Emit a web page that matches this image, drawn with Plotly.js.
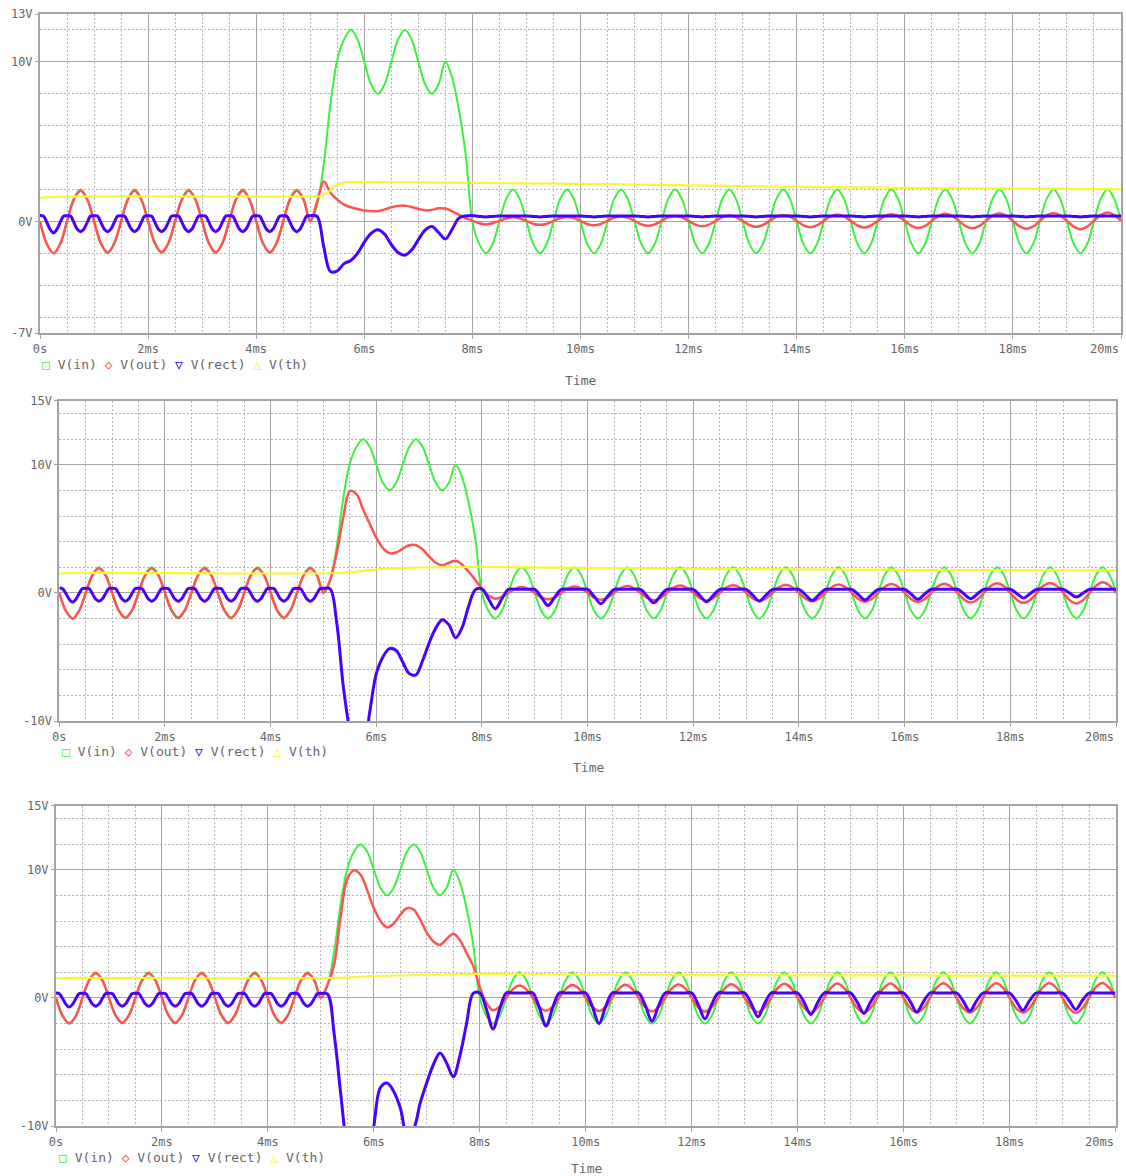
<!DOCTYPE html>
<html>
<head>
<meta charset="utf-8">
<script src="https://cdn.plot.ly/plotly-3.0.1.min.js"></script>
<style>html,body{margin:0;padding:0;background:#fff}#chart{width:1126px;height:1176px}</style>
</head>
<body>
<div id="chart"></div>
<script>
// ---------- time samples (ms) ----------
const tPre = [0,0.125,0.25,0.375,0.5,0.625,0.75,0.875,1,1.125,1.25,1.375,1.5,1.625,1.75,1.875,2,2.125,2.25,2.375,2.5,2.625,2.75,2.875,3,3.125,3.25,3.375,3.5,3.625,3.75,3.875,4,4.125,4.25,4.375,4.5,4.625,4.75,4.875,5];
const tRectPre = [0,0.0625,0.125,0.1875,0.25,0.3125,0.375,0.4375,
  0.5,0.5625,0.625,0.6875,0.75,0.8125,0.875,0.9375,
  1,1.0625,1.125,1.1875,1.25,1.3125,1.375,1.4375,
  1.5,1.5625,1.625,1.6875,1.75,1.8125,1.875,1.9375,
  2,2.0625,2.125,2.1875,2.25,2.3125,2.375,2.4375,
  2.5,2.5625,2.625,2.6875,2.75,2.8125,2.875,2.9375,
  3,3.0625,3.125,3.1875,3.25,3.3125,3.375,3.4375,
  3.5,3.5625,3.625,3.6875,3.75,3.8125,3.875,3.9375,
  4,4.0625,4.125,4.1875,4.25,4.3125,4.375,4.4375,
  4.5,4.5625,4.625,4.6875,4.75,4.8125,4.875,4.9375,
  5];
const tBurst = [5.125,5.25,5.375,5.5,5.625,5.75,5.875,6,6.125,6.25,6.375,6.5,6.625,6.75,6.875,7,7.125,7.25,7.375,7.5,7.625,7.75,7.875,8];
const tPost = [8.125,8.25,8.375,8.5,8.625,8.75,8.875,9,
  9.125,9.25,9.375,9.5,9.625,9.75,9.875,10,
  10.125,10.25,10.375,10.5,10.625,10.75,10.875,11,
  11.125,11.25,11.375,11.5,11.625,11.75,11.875,12,
  12.125,12.25,12.375,12.5,12.625,12.75,12.875,13,
  13.125,13.25,13.375,13.5,13.625,13.75,13.875,14,
  14.125,14.25,14.375,14.5,14.625,14.75,14.875,15,
  15.125,15.25,15.375,15.5,15.625,15.75,15.875,16,
  16.125,16.25,16.375,16.5,16.625,16.75,16.875,17,
  17.125,17.25,17.375,17.5,17.625,17.75,17.875,18,
  18.125,18.25,18.375,18.5,18.625,18.75,18.875,19,
  19.125,19.25,19.375,19.5,19.625,19.75,19.875,20];

// ---------- V(in) (same in all three panels) ----------
const vinPre = [0,-1.41,-2,-1.41,0,1.41,2,1.41,
  0,-1.41,-2,-1.41,0,1.41,2,1.41,
  0,-1.41,-2,-1.41,0,1.41,2,1.41,
  0,-1.41,-2,-1.41,0,1.41,2,1.41,
  0,-1.41,-2,-1.41,0,1.41,2,1.41,
  0];
const vinBurst = [1.0,3.6,7.4,10.1,11.4,12,11.4,10,8.6,8,8.6,10,11.4,12,11.4,10,8.6,8,8.6,10,9,7,4.2,0];
const vinPost = [-1.41,-2,-1.41,0,1.41,2,1.41,0,
  -1.41,-2,-1.41,0,1.41,2,1.41,0,
  -1.41,-2,-1.41,0,1.41,2,1.41,0,
  -1.41,-2,-1.41,0,1.41,2,1.41,0,
  -1.41,-2,-1.41,0,1.41,2,1.41,0,
  -1.41,-2,-1.41,0,1.41,2,1.41,0,
  -1.41,-2,-1.41,0,1.41,2,1.41,0,
  -1.41,-2,-1.41,0,1.41,2,1.41,0,
  -1.41,-2,-1.41,0,1.41,2,1.41,0,
  -1.41,-2,-1.41,0,1.41,2,1.41,0,
  -1.41,-2,-1.41,0,1.41,2,1.41,0,
  -1.41,-2,-1.41,0,1.41,2,1.41,0];

// ---------- V(out) before the burst (same in all panels) ----------
const voutPre = [0,-1.4,-2,-1.4,0,1.36,1.92,1.36,
  0,-1.36,-1.94,-1.36,0,1.36,1.92,1.36,
  0,-1.36,-1.94,-1.36,0,1.36,1.92,1.36,
  0,-1.36,-1.94,-1.36,0,1.36,1.92,1.36,
  0,-1.36,-1.94,-1.36,0,1.36,1.92,1.36,
  0];
// ---------- V(rect) before the burst (same in all panels, finer samples) ----------
const vrectPre = [0.37,0.33,-0.05,-0.5,-0.72,-0.5,-0.05,0.33,
  0.35,0.33,-0.05,-0.48,-0.65,-0.48,-0.05,0.33,
  0.35,0.33,-0.05,-0.48,-0.65,-0.48,-0.05,0.33,
  0.35,0.33,-0.05,-0.48,-0.65,-0.48,-0.05,0.33,
  0.35,0.33,-0.05,-0.48,-0.65,-0.48,-0.05,0.33,
  0.35,0.33,-0.05,-0.48,-0.65,-0.48,-0.05,0.33,
  0.35,0.33,-0.05,-0.48,-0.65,-0.48,-0.05,0.33,
  0.35,0.33,-0.05,-0.48,-0.65,-0.48,-0.05,0.33,
  0.35,0.33,-0.05,-0.48,-0.65,-0.48,-0.05,0.33,
  0.35,0.33,-0.05,-0.48,-0.65,-0.48,-0.05,0.33,
  0.35];

// ---------- panel 1 ----------
const vout1Burst = [1.2,2.5,1.8,1.36,1.05,0.88,0.78,0.68,0.63,0.64,0.75,0.88,0.97,0.98,0.9,0.78,0.69,0.72,0.82,0.8,0.63,0.42,0.21,0.05];
const vout1Post = [-0.12,-0.19,-0.12,0.03,0.18,0.25,0.18,0.03,
  -0.15,-0.22,-0.15,0.03,0.21,0.28,0.21,0.03,
  -0.17,-0.25,-0.17,0.03,0.23,0.31,0.23,0.03,
  -0.19,-0.28,-0.19,0.03,0.25,0.34,0.25,0.03,
  -0.21,-0.31,-0.21,0.03,0.27,0.37,0.27,0.03,
  -0.23,-0.34,-0.23,0.03,0.29,0.4,0.29,0.03,
  -0.25,-0.37,-0.25,0.03,0.31,0.43,0.31,0.03,
  -0.26,-0.39,-0.26,0.03,0.32,0.45,0.32,0.03,
  -0.29,-0.42,-0.29,0.03,0.35,0.48,0.35,0.03,
  -0.3,-0.44,-0.3,0.03,0.36,0.5,0.36,0.03,
  -0.32,-0.47,-0.32,0.03,0.38,0.53,0.38,0.03,
  -0.33,-0.49,-0.33,0.03,0.39,0.55,0.39,0.03];
const vrect1Burst = [0.32,-1.6,-3.15,-3.1,-2.65,-2.45,-2.0,-1.3,-0.75,-0.52,-0.8,-1.45,-1.95,-2.12,-1.8,-1.15,-0.55,-0.32,-0.7,-1.1,-0.5,0.2,0.34,0.36];
const vrect1Post = [0.31,0.28,0.31,0.34,0.34,0.34,0.34,0.34,
  0.31,0.28,0.31,0.34,0.34,0.34,0.34,0.34,
  0.31,0.28,0.31,0.34,0.34,0.34,0.34,0.34,
  0.31,0.28,0.31,0.34,0.34,0.34,0.34,0.34,
  0.31,0.28,0.31,0.34,0.34,0.34,0.34,0.34,
  0.31,0.28,0.31,0.34,0.34,0.34,0.34,0.34,
  0.31,0.28,0.31,0.34,0.34,0.34,0.34,0.34,
  0.31,0.28,0.31,0.34,0.34,0.34,0.34,0.34,
  0.31,0.28,0.31,0.34,0.34,0.34,0.34,0.34,
  0.31,0.28,0.31,0.34,0.34,0.34,0.34,0.34,
  0.31,0.28,0.31,0.34,0.34,0.34,0.34,0.34,
  0.31,0.28,0.31,0.34,0.34,0.34,0.34,0.34];
const tTh1 = [0,0.25,5.1,5.2,5.3,5.4,5.5,5.6,5.75,6,7,8,10,12,14,16,18,20];
const vth1 = [1.45,1.53,1.55,1.57,1.72,2.05,2.3,2.42,2.46,2.47,2.44,2.41,2.35,2.26,2.17,2.1,2.05,2.0];

// ---------- panel 2 ----------
const vout2Burst = [1.0,3.1,5.9,7.95,7.7,6.5,5.4,4.3,3.5,3.1,3.15,3.45,3.72,3.72,3.4,2.85,2.35,2.15,2.35,2.5,2.2,1.65,1.0,0.33];
const vout2Post = [-0.2,-0.45,-0.32,0,0.32,0.45,0.32,0,
  -0.35,-0.5,-0.35,0,0.35,0.5,0.35,0,
  -0.37,-0.53,-0.37,0,0.37,0.53,0.37,0,
  -0.4,-0.57,-0.4,0,0.4,0.57,0.4,0,
  -0.42,-0.6,-0.42,0,0.42,0.6,0.42,0,
  -0.44,-0.63,-0.44,0,0.44,0.63,0.44,0,
  -0.46,-0.66,-0.46,0,0.46,0.66,0.46,0,
  -0.48,-0.69,-0.48,0,0.48,0.69,0.48,0,
  -0.5,-0.72,-0.5,0,0.5,0.72,0.5,0,
  -0.53,-0.75,-0.53,0,0.53,0.75,0.53,0,
  -0.55,-0.78,-0.55,0,0.55,0.78,0.55,0,
  -0.57,-0.82,-0.57,0,0.57,0.82,0.57,0];
const vrect2Burst = [0.32,-2.3,-7.3,-10.8,-13,-12.5,-9.3,-6.3,-5.0,-4.35,-4.5,-5.4,-6.3,-6.4,-5.3,-3.9,-2.75,-2.1,-2.5,-3.5,-2.7,-1.0,0.25,0.3];
const vrect2Post = [-0.48,-1.24,-0.48,0.28,0.28,0.28,0.28,0.28,
  -0.35,-0.98,-0.35,0.28,0.28,0.28,0.28,0.28,
  -0.29,-0.85,-0.29,0.28,0.28,0.28,0.28,0.28,
  -0.25,-0.78,-0.25,0.28,0.28,0.28,0.28,0.28,
  -0.21,-0.7,-0.21,0.28,0.28,0.28,0.28,0.28,
  -0.18,-0.64,-0.18,0.28,0.28,0.28,0.28,0.28,
  -0.16,-0.6,-0.16,0.28,0.28,0.28,0.28,0.28,
  -0.14,-0.55,-0.14,0.28,0.28,0.28,0.28,0.28,
  -0.11,-0.5,-0.11,0.28,0.28,0.28,0.28,0.28,
  -0.09,-0.45,-0.09,0.28,0.28,0.28,0.28,0.28,
  -0.06,-0.4,-0.06,0.28,0.28,0.28,0.28,0.28,
  -0.02,-0.32,-0.02,0.28,0.28,0.28,0.28,0.28];
const tTh2 = [0,0.25,5.3,5.6,6,6.5,7,8,9,10,12,14,16,18,20];
const vth2 = [1.52,1.55,1.55,1.65,1.82,1.93,2.0,2.02,1.99,1.95,1.88,1.84,1.8,1.77,1.75];

// ---------- panel 3 ----------
const vout3Burst = [1.0,2.6,6.4,9.3,9.95,9.6,8.4,7.0,6.0,5.5,5.8,6.5,7.0,6.9,6.1,5.1,4.4,4.15,4.6,5.0,4.5,3.5,2.5,0.85];
const vout3Post = [-0.4,-0.97,-0.68,0,0.68,0.97,0.68,0,
  -0.7,-1.0,-0.7,0,0.7,1.0,0.7,0,
  -0.71,-1.02,-0.71,0,0.71,1.02,0.71,0,
  -0.74,-1.05,-0.74,0,0.74,1.05,0.74,0,
  -0.75,-1.07,-0.75,0,0.75,1.07,0.75,0,
  -0.77,-1.1,-0.77,0,0.77,1.1,0.77,0,
  -0.78,-1.12,-0.78,0,0.78,1.12,0.78,0,
  -0.79,-1.13,-0.79,0,0.79,1.13,0.79,0,
  -0.8,-1.14,-0.8,0,0.8,1.14,0.8,0,
  -0.8,-1.15,-0.8,0,0.8,1.15,0.8,0,
  -0.81,-1.16,-0.81,0,0.81,1.16,0.81,0,
  -0.82,-1.17,-0.82,0,0.82,1.17,0.82,0];
const vrect3Burst = [0.3,-2.8,-7.5,-12,-14.5,-15,-13,-10,-7.0,-6.65,-7.3,-8.6,-10.6,-10.2,-8.2,-6.6,-5.2,-4.3,-5.1,-6.15,-4.5,-2.0,0.35,0.38];
const vrect3Post = [-0.88,-2.42,-0.88,0.38,0.38,0.38,0.38,0.38,
  -0.78,-2.2,-0.78,0.38,0.38,0.38,0.38,0.38,
  -0.69,-2.0,-0.69,0.38,0.38,0.38,0.38,0.38,
  -0.61,-1.82,-0.61,0.38,0.38,0.38,0.38,0.38,
  -0.53,-1.64,-0.53,0.38,0.38,0.38,0.38,0.38,
  -0.46,-1.48,-0.46,0.38,0.38,0.38,0.38,0.38,
  -0.38,-1.3,-0.38,0.38,0.38,0.38,0.38,0.38,
  -0.33,-1.2,-0.33,0.38,0.38,0.38,0.38,0.38,
  -0.29,-1.1,-0.29,0.38,0.38,0.38,0.38,0.38,
  -0.25,-1.03,-0.25,0.38,0.38,0.38,0.38,0.38,
  -0.23,-0.97,-0.23,0.38,0.38,0.38,0.38,0.38,
  -0.2,-0.9,-0.2,0.38,0.38,0.38,0.38,0.38];
const tTh3 = [0,0.25,5.3,6,7,8,10,12,14,16,18,20];
const vth3 = [1.53,1.56,1.56,1.7,1.8,1.87,1.82,1.78,1.76,1.75,1.74,1.74];

// ---------- tick labels ----------
const xTickVals = [0,2,4,6,8,10,12,14,16,18,20];
const xTickText = ['0s','2ms','4ms','6ms','8ms','10ms','12ms','14ms','16ms','18ms',''];
const xLastLabel = '20ms';
const y1TickVals = [-7,0,10,13];
const y1TickText = ['-7V','0V','10V','13V'];
const y23TickVals = [-10,0,10,15];
const y23TickText = ['-10V','0V','10V','15V'];
const seriesNames = ['V(in)','V(out)','V(rect)','V(th)'];

// ---------- build ----------
const t = tPre.concat(tBurst, tPost);
const tRect = tRectPre.concat(tBurst, tPost);
const vin = vinPre.concat(vinBurst, vinPost);
const panels = [
  {out: voutPre.concat(vout1Burst, vout1Post), rect: vrectPre.concat(vrect1Burst, vrect1Post), tth: tTh1, th: vth1},
  {out: voutPre.concat(vout2Burst, vout2Post), rect: vrectPre.concat(vrect2Burst, vrect2Post), tth: tTh2, th: vth2},
  {out: voutPre.concat(vout3Burst, vout3Post), rect: vrectPre.concat(vrect3Burst, vrect3Post), tth: tTh3, th: vth3}
];
const COL = {in:'#3ef03e', out:'#ff5252', rect:'#4800ff', th:'#f7f736'};
const W = 1126, H = 1176;
const FONT = 'DejaVu Sans Mono, Liberation Mono, monospace';

function line(x, y, color, width, k){
  return {x:x, y:y, type:'scatter', mode:'lines', showlegend:false, hoverinfo:'skip',
    line:{color:color, width:width, shape:'spline', smoothing:1},
    xaxis: k===1?'x':'x'+k, yaxis: k===1?'y':'y'+k};
}
const data = [];
panels.forEach((p, i) => {
  const k = i + 1;
  data.push(line(t, vin, COL.in, 2, k));
  data.push(line(t, p.out, COL.out, 2.5, k));
  data.push(line(tRect, p.rect, COL.rect, 3, k));
  data.push(line(p.tth, p.th, COL.th, 2.2, k));
});

// panel geometry in pixels
const geo = [
  {l:40, r:1121, top:14, bot:333, yr:[-7,13], tv:y1TickVals, tt:y1TickText, legY:364, legX:40, timeX:580, timeY:380},
  {l:59.3, r:1116, top:400.7, bot:721, yr:[-10,15], tv:y23TickVals, tt:y23TickText, legY:751, legX:60, timeX:588, timeY:767},
  {l:56, r:1115.5, top:805.7, bot:1126, yr:[-10,15], tv:y23TickVals, tt:y23TickText, legY:1157, legX:57, timeX:586, timeY:1168}
];
const layout = {width:W, height:H, margin:{l:0,r:0,t:0,b:0}, paper_bgcolor:'#fff', plot_bgcolor:'#fff',
  showlegend:false, annotations:[]};
const tickfont = {family:FONT, size:12, color:'#666666'};
const legendText = '<span style="color:'+COL.in+'">□</span> '+seriesNames[0]+' <span style="color:'+COL.out+'">◇</span> '+seriesNames[1]+
  ' <span style="color:'+COL.rect+'">▽</span> '+seriesNames[2]+' <span style="color:'+COL.th+'">△</span> '+seriesNames[3];
geo.forEach((g, i) => {
  const k = i + 1;
  const xa = k===1?'xaxis':'xaxis'+k, ya = k===1?'yaxis':'yaxis'+k;
  const common = {showline:true, mirror:true, linecolor:'#a3a3a3', linewidth:2, ticks:'outside', ticklen:4,
    tickcolor:'#a3a3a3', zeroline:false, showgrid:true, gridcolor:'#a6a6a6', gridwidth:1, tickfont:tickfont, fixedrange:true};
  layout[xa] = Object.assign({}, common, {domain:[g.l/W, g.r/W], anchor: k===1?'y':'y'+k, range:[0,20],
    tickmode:'array', tickvals:xTickVals, ticktext:xTickText,
    minor:{dtick:0.5, tick0:0, showgrid:true, gridcolor:'#b4b4b4', griddash:'2px,2px', gridwidth:1}});
  layout[ya] = Object.assign({}, common, {domain:[1-g.bot/H, 1-g.top/H], anchor: k===1?'x':'x'+k, range:g.yr,
    tickmode:'array', tickvals:g.tv, ticktext:g.tt, ticklen:3,
    minor:{dtick:2, tick0:0, showgrid:true, gridcolor:'#b4b4b4', griddash:'2px,2px', gridwidth:1}});
  layout.annotations.push({xref:'paper', yref:'paper', x:g.r/W, y:1-(g.bot+15.5)/H, xanchor:'right', yanchor:'middle',
    showarrow:false, text:xLastLabel, font:tickfont});
  layout.annotations.push({xref:'paper', yref:'paper', x:g.legX/W, y:1-g.legY/H, xanchor:'left', yanchor:'middle',
    showarrow:false, text:legendText, font:{family:FONT, size:13, color:'#666666'}});
  layout.annotations.push({xref:'paper', yref:'paper', x:g.timeX/W, y:1-g.timeY/H, xanchor:'center', yanchor:'middle',
    showarrow:false, text:'Time', font:{family:FONT, size:13, color:'#666666'}});
});

Plotly.newPlot('chart', data, layout, {staticPlot:true, displayModeBar:false});
</script>
</body>
</html>
